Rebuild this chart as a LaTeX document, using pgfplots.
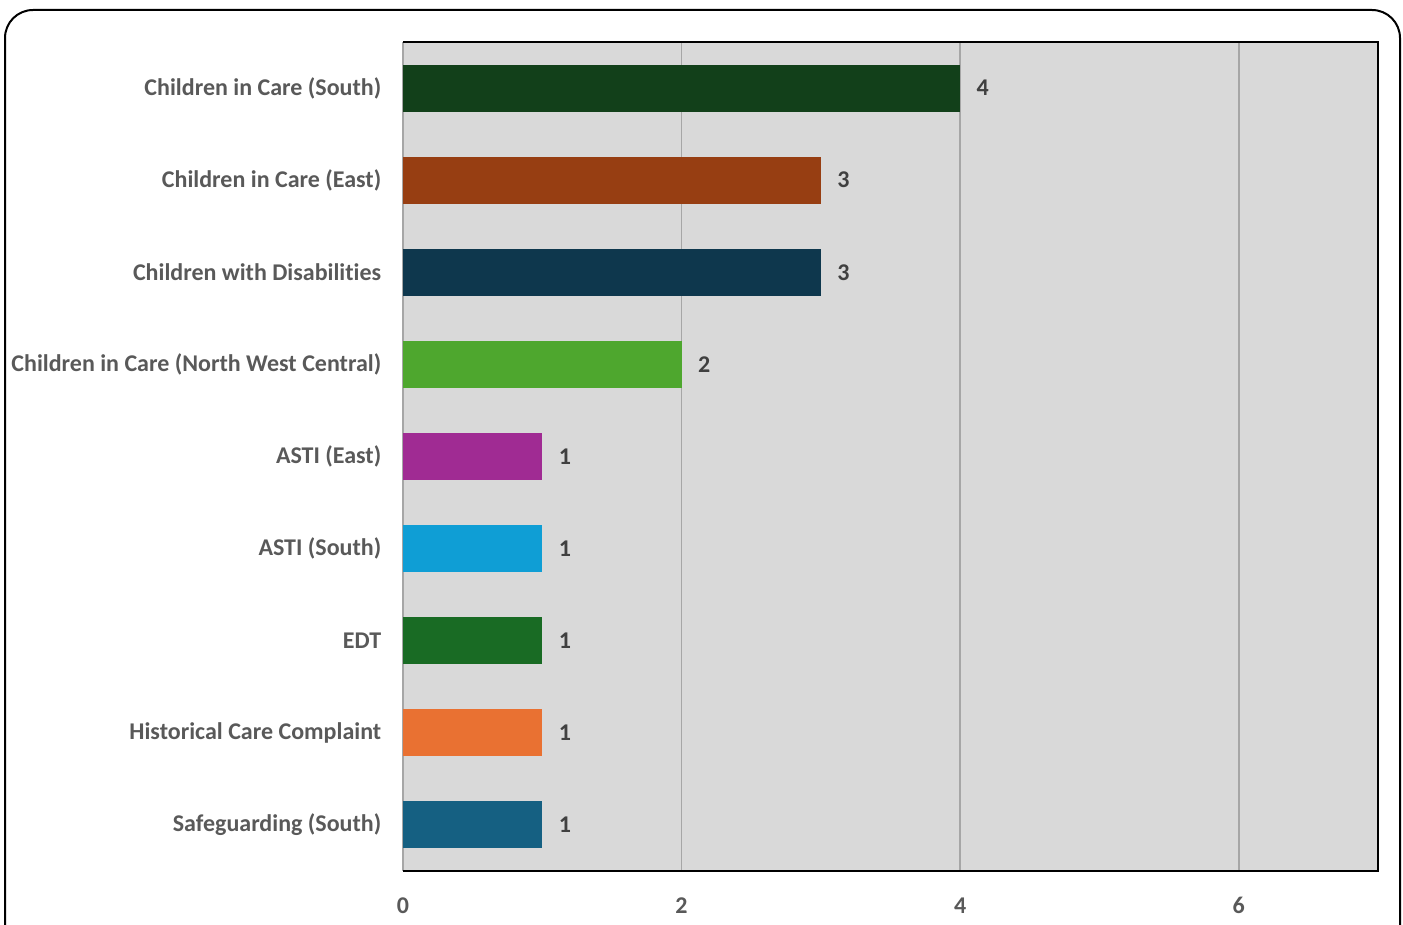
\documentclass[border=0pt]{standalone}
\usepackage{pgfplots}
\pgfplotsset{compat=1.18}
\usepackage{fontspec}
\setmainfont{Carlito}[Ligatures={NoCommon}]

\definecolor{labelgray}{HTML}{595959}
\definecolor{valgray}{HTML}{404040}
\definecolor{plotbg}{HTML}{D9D9D9}
\definecolor{gridgray}{HTML}{A6A6A6}
\definecolor{cSouth}{HTML}{12401A}
\definecolor{cEast}{HTML}{973E12}
\definecolor{cDis}{HTML}{0E374D}
\definecolor{cNWC}{HTML}{4EA72E}
\definecolor{cAstiE}{HTML}{A02B93}
\definecolor{cAstiS}{HTML}{0F9ED5}
\definecolor{cEDT}{HTML}{196B24}
\definecolor{cHist}{HTML}{E97132}
\definecolor{cSafe}{HTML}{156082}

\begin{document}
\begin{tikzpicture}[x=1pt,y=1pt]
\path[use as bounding box] (0,0) rectangle (1403,924);
\begin{scope}
\clip (0,0) rectangle (1403,924);
\draw[line width=2pt, rounded corners=28pt] (5,914) rectangle (1400,-30);
\end{scope}
\begin{axis}[
  at={(403pt,53pt)}, anchor=south west,
  scale only axis,
  width=975pt, height=829pt,
  xmin=0, xmax=7, ymin=0.5, ymax=9.5,
  y dir=reverse,
  xbar, bar shift=0pt, bar width=0.51,
  axis background/.style={fill=plotbg},
  xtick={0,2,4,6},
  ytick={1,...,9},
  yticklabels={Children in Care (South),Children in Care (East),Children with Disabilities,Children in Care (North West Central),ASTI (East),ASTI (South),EDT,Historical Care Complaint,Safeguarding (South)},
  /pgf/number format/assume math mode=true,
  tick style={draw=none},
  xmajorgrids, grid style={draw=gridgray, line width=1.6pt},
  axis line style={draw=black, line width=2pt},
  axis y line*=left,
  separate axis lines,
  y axis line style={draw=gridgray, line width=2pt},
  xticklabel style={font=\fontsize{24}{26}\selectfont\bfseries, text=labelgray, yshift=-23pt},
  yticklabel style={font=\fontsize{24}{26}\selectfont\bfseries, text=labelgray, xshift=-14pt},
  nodes near coords,
  nodes near coords style={font=\fontsize{24}{26}\selectfont\bfseries, text=valgray, anchor=west, xshift=13pt},
  clip=false,
]
\addplot[fill=cSouth, draw=none] coordinates {(4,1)};
\addplot[fill=cEast, draw=none] coordinates {(3,2)};
\addplot[fill=cDis, draw=none] coordinates {(3,3)};
\addplot[fill=cNWC, draw=none] coordinates {(2,4)};
\addplot[fill=cAstiE, draw=none] coordinates {(1,5)};
\addplot[fill=cAstiS, draw=none] coordinates {(1,6)};
\addplot[fill=cEDT, draw=none] coordinates {(1,7)};
\addplot[fill=cHist, draw=none] coordinates {(1,8)};
\addplot[fill=cSafe, draw=none] coordinates {(1,9)};
\end{axis}
\draw[line width=2pt] (403,882) -- (1378,882) -- (1378,53) -- (403,53);
\end{tikzpicture}
\end{document}
